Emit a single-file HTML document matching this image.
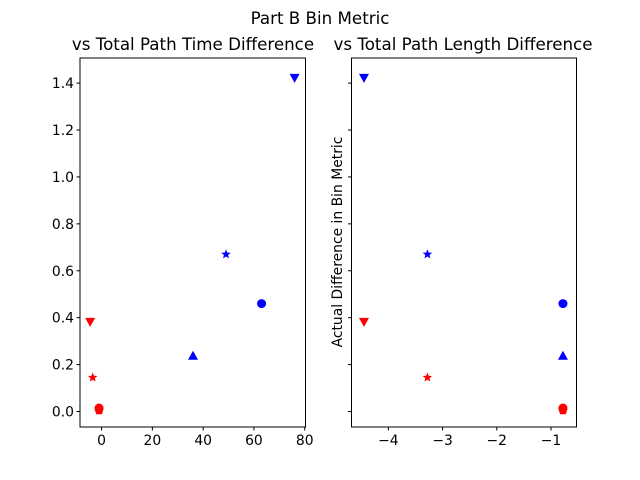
<!DOCTYPE html>
<html><head><meta charset="utf-8"><style>
body{margin:0;background:#fff;}
svg{display:block;font-family:"DejaVu Sans","Liberation Sans",sans-serif;}
</style></head><body>
<svg id="chart" width="640" height="480" viewBox="0 0 640 480">
<rect width="640" height="480" fill="#fff"/>
<text x="320" y="24" font-size="16.7" text-anchor="middle">Part B Bin Metric</text>
<text x="193" y="50" font-size="16.7" text-anchor="middle">vs Total Path Time Difference</text>
<text x="463" y="50" font-size="16.7" text-anchor="middle">vs Total Path Length Difference</text>
<text transform="translate(342,242) rotate(-90)" font-size="13.9" text-anchor="middle">Actual Difference in Bin Metric</text>
<g id="g"></g>
</svg>
<script>
const yTicks=[0,0.2,0.4,0.6,0.8,1.0,1.2,1.4];
const yTickLabels=["0.0","0.2","0.4","0.6","0.8","1.0","1.2","1.4"];
const leftXTicks=[0,20,40,60,80];
const leftXTickLabels=["0","20","40","60","80"];
const rightXTicks=[-4,-3,-2,-1];
const rightXTickLabels=["−4","−3","−2","−1"];
const leftX=[-1,-1,-3.5,-4.5,36,49,63,76];
const leftY=[0.015,0.005,0.145,0.38,0.24,0.67,0.46,1.42];
const rightX=[-0.78,-0.78,-3.28,-4.45,-0.78,-3.28,-0.78,-4.45];
const rightY=[0.015,0.005,0.145,0.38,0.24,0.67,0.46,1.42];
const markers=["o","p","*","v","^","*","o","v"];
const colors=["red","red","red","red","blue","blue","blue","blue"];
const NS="http://www.w3.org/2000/svg";
const g=document.getElementById('g');
function mk(t,a){const e=document.createElementNS(NS,t);for(const k in a)e.setAttribute(k,a[k]);g.appendChild(e);return e;}
const T=58,B=427;const yMin=-0.066,yMax=1.507;
function ys(v){return B-(v-yMin)/(yMax-yMin)*(B-T);}
function marker(m,cx,cy,c){
 let e;
 if(m==="o")e=mk('circle',{cx:cx,cy:cy,r:4.5,fill:c});
 else if(m==="p"){let p=[];for(let i=0;i<5;i++){const a=-Math.PI/2+i*2*Math.PI/5;p.push((cx+4.8*Math.cos(a)).toFixed(2)+','+(cy+4.8*Math.sin(a)).toFixed(2));}e=mk('polygon',{points:p.join(' '),fill:c});}
 else if(m==="*"){let p=[];for(let i=0;i<10;i++){const r=i%2?2.2:5;const a=-Math.PI/2+i*Math.PI/5;p.push((cx+r*Math.cos(a)).toFixed(2)+','+(cy+r*Math.sin(a)).toFixed(2));}e=mk('polygon',{points:p.join(' '),fill:c});}
 else if(m==="v")e=mk('polygon',{points:`${cx-5},${cy-4.5} ${cx+5},${cy-4.5} ${cx},${cy+4.5}`,fill:c});
 else e=mk('polygon',{points:`${cx-5},${cy+4.5} ${cx+5},${cy+4.5} ${cx},${cy-4.5}`,fill:c});
 return e;
}
function panel(name,L,R,xMin,xMax,xt,xtl,xs,ysArr,showY){
 const xsc=v=>L+(v-xMin)/(xMax-xMin)*(R-L);
 const fr=mk('rect',{x:L,y:T,width:R-L,height:B-T,fill:'none',stroke:'#000','stroke-width':1});
 
 
 xt.forEach((v,i)=>{const x=xsc(v);
  const l=mk('line',{x1:x,x2:x,y1:B,y2:B+3.5,stroke:'#000'});
  
  
  const t=mk('text',{x:x,y:B+18,'font-size':13.9,'text-anchor':'middle'});t.textContent=xtl[i];
  
  });
 yTicks.forEach((v,i)=>{const y=ys(v);
  const l=mk('line',{x1:L-3.5,x2:L,y1:y,y2:y,stroke:'#000'});
  
  
  if(showY){const t=mk('text',{x:L-6,y:y+5,'font-size':13.9,'text-anchor':'end'});t.textContent=yTickLabels[i];
  
  }});
 xs.forEach((v,i)=>{const e=marker(markers[i],xsc(v),ys(ysArr[i]),colors[i]);
  
  });
}
panel('left',80,305.5,-8.5,80.3,leftXTicks,leftXTickLabels,leftX,leftY,true);
panel('right',351.5,576.5,-4.68,-0.53,rightXTicks,rightXTickLabels,rightX,rightY,false);
</script>
</body></html>
